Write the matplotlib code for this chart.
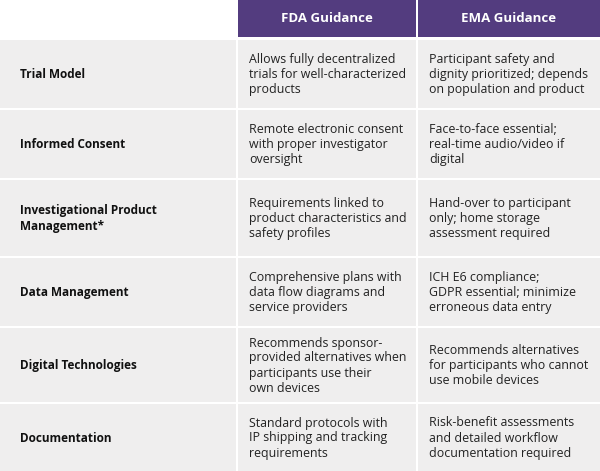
import matplotlib
matplotlib.use("Agg")
import matplotlib.pyplot as plt
from matplotlib.patches import Rectangle

headers = ["FDA Guidance", "EMA Guidance"]
categories = ["Trial Model", "Informed Consent", "Investigational Product\nManagement*",
              "Data Management", "Digital Technologies", "Documentation"]
fda = ["Allows fully decentralized\ntrials for well-characterized\nproducts",
       "Remote electronic consent\nwith proper investigator\noversight",
       "Requirements linked to\nproduct characteristics and\nsafety profiles",
       "Comprehensive plans with\ndata flow diagrams and\nservice providers",
       "Recommends sponsor-\nprovided alternatives when\nparticipants use their\nown devices",
       "Standard protocols with\nIP shipping and tracking\nrequirements"]
ema = ["Participant safety and\ndignity prioritized; depends\non population and product",
       "Face-to-face essential;\nreal-time audio/video if\ndigital",
       "Hand-over to participant\nonly; home storage\nassessment required",
       "ICH E6 compliance;\nGDPR essential; minimize\nerroneous data entry",
       "Recommends alternatives\nfor participants who cannot\nuse mobile devices",
       "Risk-benefit assessments\nand detailed workflow\ndocumentation required"]

font = "Open Sans"
fig = plt.figure(figsize=(6, 4.71), dpi=100)
ax = fig.add_axes([0, 0, 1, 1])
ax.set_xlim(0, 600); ax.set_ylim(471, 0); ax.axis("off")

cols = [(0, 236), (238, 416), (418, 600)]
purple = "#533c7f"
gray = "#efeeee"
for (x0, x1), h in zip(cols[1:], headers):
    ax.add_patch(Rectangle((x0, 0), x1 - x0, 37, color=purple, lw=0))
    ax.text((x0 + x1) / 2, 19, h, color="white", ha="center", va="center",
            fontsize=9.5, fontweight="bold", family=font)

rows = [(40, 108), (110, 178), (180, 256), (258, 326), (328, 402), (404, 471)]
for (y0, y1), c, f, e in zip(rows, categories, fda, ema):
    for x0, x1 in cols:
        ax.add_patch(Rectangle((x0, y0), x1 - x0, y1 - y0, color=gray, lw=0))
    yc = (y0 + y1) / 2 + 0.5
    ax.text(20, yc, c, ha="left", va="center", fontsize=8.5, fontweight="bold",
            family=font, color="#111111", linespacing=1.25)
    ax.text(249, yc, f, ha="left", va="center", fontsize=8.9, family=font,
            color="#222222", linespacing=1.2)
    ax.text(429, yc, e, ha="left", va="center", fontsize=8.9, family=font,
            color="#222222", linespacing=1.2)

fig.savefig("out.png", dpi=100)
